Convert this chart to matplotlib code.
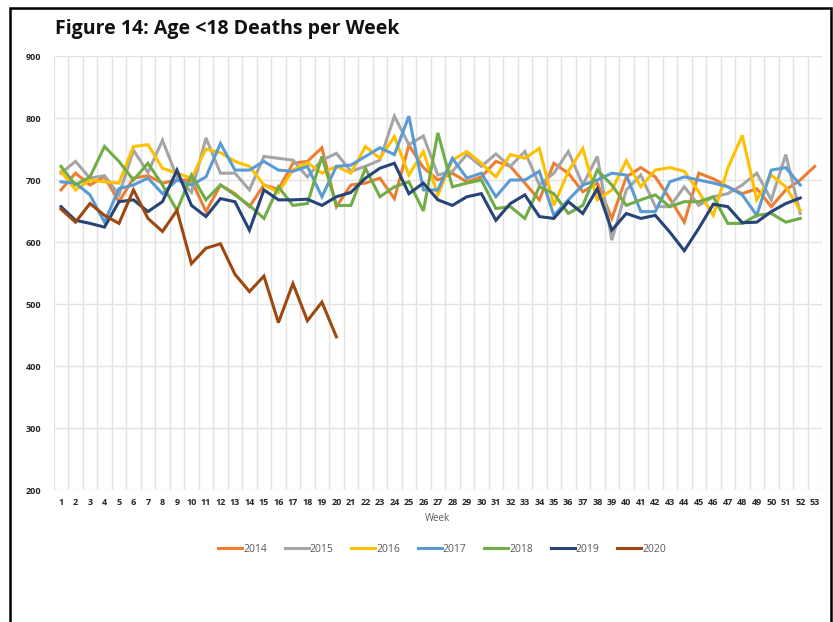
import matplotlib
matplotlib.use("Agg")
import matplotlib.pyplot as plt
from matplotlib.patches import Rectangle
import numpy as np

weeks = list(range(1, 54))

y2014 = [684, 711, 692, 705, 665, 703, 707, 695, 700, 700, 649, 692, 678, 657, 692, 685, 727, 730, 752, 657,
         692, 695, 703, 670, 756, 720, 700, 711, 697, 705, 730, 722, 695, 668, 727, 711, 681, 695, 638, 705,
         720, 705, 670, 632, 711, 702, 689, 678, 686, 657, 684, 700, 722]
y2015 = [711, 730, 703, 707, 676, 748, 712, 764, 705, 680, 768, 711, 711, 684, 738, 735, 732, 705, 732, 743,
         714, 722, 732, 803, 757, 771, 708, 714, 741, 722, 742, 722, 746, 692, 711, 746, 692, 738, 603, 684,
         708, 657, 657, 689, 659, 673, 678, 692, 711, 668, 741, 646]
y2016 = [714, 684, 700, 697, 695, 754, 757, 719, 711, 703, 750, 744, 730, 722, 692, 680, 716, 728, 711, 722,
         711, 754, 735, 770, 708, 746, 676, 732, 746, 727, 705, 741, 735, 751, 659, 714, 751, 668, 684, 731,
         689, 716, 720, 714, 681, 643, 719, 772, 668, 708, 689, 651]
y2017 = [697, 695, 676, 632, 686, 692, 703, 678, 700, 692, 705, 759, 716, 716, 730, 716, 714, 722, 673, 722,
         724, 738, 752, 741, 803, 684, 684, 735, 703, 711, 673, 700, 700, 714, 643, 668, 692, 700, 711, 708,
         649, 649, 697, 705, 700, 695, 689, 676, 643, 716, 720, 692]
y2018 = [722, 692, 705, 754, 730, 700, 727, 692, 651, 708, 668, 692, 676, 659, 638, 689, 659, 662, 738, 659,
         659, 719, 673, 689, 697, 650, 776, 689, 695, 700, 654, 657, 638, 689, 678, 646, 659, 716, 692, 659,
         668, 676, 657, 665, 665, 673, 630, 630, 643, 646, 632, 638]
y2019 = [657, 635, 630, 624, 665, 668, 649, 665, 716, 659, 641, 670, 665, 619, 684, 668, 668, 669, 659, 673,
         680, 703, 719, 727, 678, 695, 668, 659, 673, 678, 635, 662, 676, 641, 638, 665, 646, 686, 619, 646,
         638, 643, 616, 586, 622, 661, 657, 631, 632, 649, 662, 671]
y2020 = [653, 632, 662, 643, 630, 684, 638, 617, 651, 565, 590, 597, 548, 520, 545, 470, 533, 473, 503, 447]

series = [
    ("2014", y2014, "#ED7D31"),
    ("2015", y2015, "#A5A5A5"),
    ("2016", y2016, "#FFC000"),
    ("2017", y2017, "#5B9BD5"),
    ("2018", y2018, "#70AD47"),
    ("2019", y2019, "#264478"),
    ("2020", y2020, "#9E480E"),
]

yticks = [200, 300, 400, 500, 600, 700, 800, 900]

plt.rcParams['font.family'] = ['Open Sans', 'DejaVu Sans']

fig = plt.figure(figsize=(8.33, 6.22), dpi=100)
ax = fig.add_axes([53.75 / 833, 1 - 490 / 622, (822 - 53.75) / 833, (490 - 56) / 622])

for name, vals, col in series:
    ax.plot(weeks[:len(vals)], vals, color=col, linewidth=2.2, label=name,
            solid_joinstyle='miter')

ax.set_xlim(0.5, 53.5)
ax.set_ylim(200, 900)
ax.set_yticks(yticks)
ax.set_yticklabels([str(v) for v in yticks], fontsize=6.5, fontweight='bold', color='#262626')
ax.set_xticks(weeks)
ax.set_xticklabels([str(w) for w in weeks], fontsize=6.5, fontweight='bold', color='#262626')
ax.set_xticks(np.arange(0.5, 54.0, 1.0), minor=True)
ax.tick_params(axis='both', which='both', length=0)
ax.tick_params(axis='x', pad=6)
ax.tick_params(axis='y', pad=9)
ax.grid(True, axis='y', which='major', color='#E3E3E3', linewidth=1.0)
ax.grid(True, axis='x', which='minor', color='#E3E3E3', linewidth=1.0)
ax.grid(False, axis='x', which='major')
ax.set_axisbelow(True)
for s in ax.spines.values():
    s.set_visible(False)

ax.set_xlabel("Week", fontsize=7, color='#595959', labelpad=4)

leg = fig.legend(loc='center', bbox_to_anchor=(442 / 833, 1 - 549 / 622), ncol=7, frameon=False,
                 fontsize=7.5, handlelength=2.3, columnspacing=1.7, handletextpad=0.1)
for t in leg.get_texts():
    t.set_color('#595959')

fig.text(55 / 833, 1 - 29 / 622, "Figure 14: Age <18 Deaths per Week", fontsize=14,
         fontweight='bold', ha='left', va='center', color='#111111')

fig.patches.append(Rectangle((10 / 833, -0.02), (831 - 10) / 833, 1.02 - 7.5 / 622,
                             transform=fig.transFigure, fill=False, edgecolor='black', linewidth=1.8))

fig.savefig("out.png", dpi=100, facecolor='white')
